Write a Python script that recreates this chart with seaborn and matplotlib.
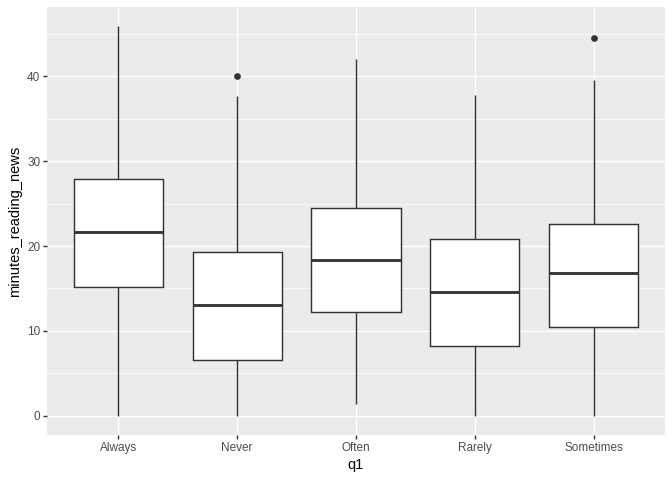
import pandas as pd
import matplotlib
matplotlib.use("Agg")
import matplotlib.pyplot as plt
import seaborn as sns

categories = ["Always", "Never", "Often", "Rarely", "Sometimes"]
whisker_low = [0.0, 0.0, 1.3, 0.0, 0.0]
q1_values = [15.15, 6.6, 12.2, 8.2, 10.5]
median_values = [21.65, 13.0, 18.35, 14.55, 16.8]
q3_values = [27.95, 19.35, 24.5, 20.85, 22.6]
whisker_high = [45.9, 37.75, 42.1, 37.85, 39.55]
outliers = [[], [40.0], [], [], [44.6]]

# build small samples whose quartiles/whiskers reproduce the box stats
rows = []
for i, cat in enumerate(categories):
    vals = [whisker_low[i], q1_values[i], q1_values[i], median_values[i],
            median_values[i], q3_values[i], q3_values[i], whisker_high[i]]
    vals += outliers[i] if outliers[i] else [whisker_high[i]]
    for v in vals:
        rows.append({"q1": cat, "minutes_reading_news": v})
df = pd.DataFrame(rows)

sns.set_theme(style="darkgrid")
plt.rcParams["font.family"] = ["Liberation Sans", "DejaVu Sans"]

fig = plt.figure(figsize=(7, 5), dpi=96)
ax = fig.add_axes([47 / 672, 45 / 480, 618 / 672, 428 / 480])
ax.set_facecolor("#EBEBEB")

line_c = "#333333"
sns.boxplot(data=df, x="q1", y="minutes_reading_news", order=categories,
            color="white", linecolor=line_c, linewidth=1.07, width=0.75,
            showcaps=False, ax=ax,
            medianprops=dict(color=line_c, linewidth=2.13),
            flierprops=dict(marker="o", markerfacecolor=line_c,
                            markeredgecolor=line_c, markersize=4.0))

ax.set_ylim(-2.3, 48.2)
ax.set_xlim(-0.6, 4.6)
ax.set_yticks([0, 10, 20, 30, 40])
ax.set_yticks([5, 15, 25, 35, 45], minor=True)
ax.grid(which="major", color="white", linewidth=1.07)
ax.grid(which="minor", axis="y", color="white", linewidth=0.53)
ax.set_axisbelow(True)
for s in ax.spines.values():
    s.set_visible(False)

ax.tick_params(axis="both", which="major", bottom=True, left=True,
               length=2.75, width=1.07, color="#333333",
               labelcolor="#4D4D4D", labelsize=8.8, pad=2.2)
ax.tick_params(axis="both", which="minor", length=0)
ax.set_xlabel("q1", fontsize=11, color="black", labelpad=3)
ax.set_ylabel("minutes_reading_news", fontsize=11, color="black", labelpad=4)

fig.savefig("out.png", dpi=96)
